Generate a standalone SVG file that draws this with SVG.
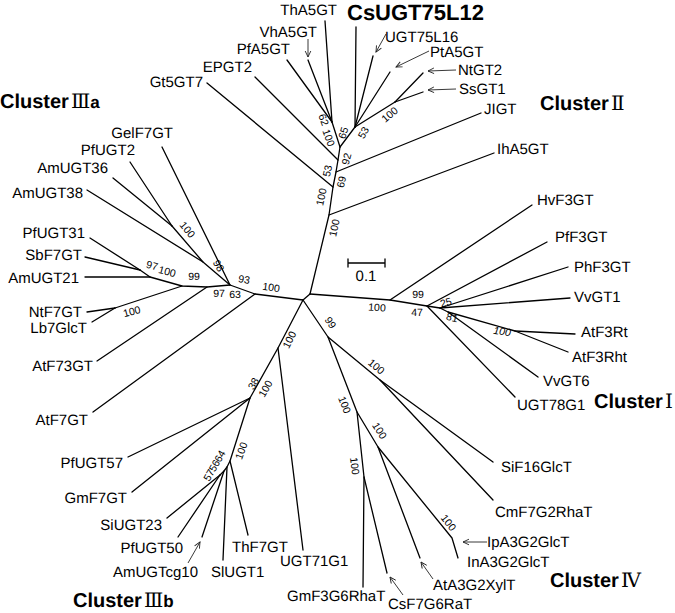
<svg xmlns="http://www.w3.org/2000/svg" width="675" height="613" viewBox="0 0 675 613">
<defs>
<marker id="ah" viewBox="0 0 8 8" refX="7" refY="4" markerWidth="8" markerHeight="8" markerUnits="userSpaceOnUse" orient="auto">
<path d="M1,1.2 L7,4 L1,6.8" fill="none" stroke="#222" stroke-width="0.9"/>
</marker>
<style>
.e{stroke:#000;stroke-width:1.3;fill:none;stroke-linecap:round;stroke-linejoin:round}
.a{stroke:#222;stroke-width:0.9;fill:none;marker-end:url(#ah)}
text{font-family:"Liberation Sans",Arial,sans-serif;fill:#000;text-rendering:geometricPrecision}
.l{font-size:15px}
.le{font-size:15px;text-anchor:end}
.n{font-size:10.5px;text-anchor:middle;dominant-baseline:central}
.c{font-size:20px;font-weight:bold}
.r{font-family:"DejaVu Serif","Noto Sans CJK SC",serif;font-weight:normal}
.big{font-size:22px;font-weight:bold}
</style>
</defs>
<rect width="675" height="613" fill="#fff"/>
<g id="connectors">
<path class="e" d="M303,300 L310,294"/>
<!-- Cluster II -->
<path class="e" d="M310,294 L329,215 L333,187 L336,172 L338,160 L340,147"/>
<path class="e" d="M329,215 L494,153"/>
<path class="e" d="M333,187 L207,83"/>
<path class="e" d="M336,172 L481,113"/>
<path class="e" d="M338,160 L255,77"/>
<path class="e" d="M340,147 L332,122"/>
<path class="e" d="M332,122 L287,60"/>
<path class="e" d="M332,122 L308,60"/>
<path class="e" d="M332,122 L325,21"/>
<path class="e" d="M340,147 L355,127"/>
<path class="e" d="M355,127 L356,27"/>
<path class="e" d="M355,127 L373,56"/>
<path class="e" d="M355,127 L390,72"/>
<path class="e" d="M355,127 L395,102"/>
<path class="e" d="M395,102 L423,73"/>
<path class="e" d="M395,102 L423,92"/>
<path class="a" d="M308,39 L308,57"/>
<path class="a" d="M386,34 L376,52"/>
<path class="a" d="M429,51 L396,67"/>
<path class="a" d="M456,70 L428,71"/>
<path class="a" d="M456,89 L428,90"/>
<!-- Cluster IIIa -->
<path class="e" d="M303,300 L255,294 L230,285 L207,287 L182,286 L150,277 L140,270"/>
<path class="e" d="M255,294 L93,412"/>
<path class="e" d="M230,285 L162,147"/>
<path class="e" d="M230,285 L203,262 L172,226"/>
<path class="e" d="M203,262 L87,190"/>
<path class="e" d="M172,226 L130,162"/>
<path class="e" d="M172,226 L113,178"/>
<path class="e" d="M207,287 L97,361"/>
<path class="e" d="M150,277 L85,277"/>
<path class="e" d="M140,270 L90,238"/>
<path class="e" d="M140,270 L85,257"/>
<path class="e" d="M182,286 L115,308"/>
<path class="e" d="M115,308 L87,312"/>
<path class="e" d="M115,308 L92,322"/>
<!-- Cluster IIIb -->
<path class="e" d="M303,300 L278,348 L250,398 L230,461 L227,467 L224,471 L220,475"/>
<path class="e" d="M278,348 L303,550"/>
<path class="e" d="M250,398 L128,457"/>
<path class="e" d="M250,398 L132,492"/>
<path class="e" d="M230,461 L248,535"/>
<path class="e" d="M227,467 L223,560"/>
<path class="e" d="M224,471 L202,537"/>
<path class="e" d="M220,475 L178,537"/>
<path class="e" d="M220,475 L167,518"/>
<path class="a" d="M188,563 L200,542"/>
<!-- Cluster IV -->
<path class="e" d="M303,300 L328,337 L380,380 L493,462"/>
<path class="e" d="M380,380 L493,500"/>
<path class="e" d="M328,337 L357,412 L364,477 L363,587"/>
<path class="e" d="M364,477 L387,573"/>
<path class="e" d="M357,412 L378,447 L420,558"/>
<path class="e" d="M378,447 L452,538 L458,558"/>
<path class="a" d="M487,542 L463,542"/>
<path class="a" d="M433,579 L421,562"/>
<path class="a" d="M403,595 L390,577"/>
<!-- Cluster I -->
<path class="e" d="M310,294 L390,300 L427,306 L440,308 L448,312 L515,331 L568,352"/>
<path class="e" d="M390,300 L532,205"/>
<path class="e" d="M427,306 L547,242"/>
<path class="e" d="M427,306 L515,397"/>
<path class="e" d="M440,308 L568,267"/>
<path class="e" d="M440,308 L570,298"/>
<path class="e" d="M448,312 L538,377"/>
<path class="e" d="M515,331 L575,334"/>
<!-- scale bar -->
<path class="e" d="M348,263 L385,263 M348,259 L348,267 M385,259 L385,267"/>
</g>
<g id="bootstrap">
<text class="n" transform="translate(323,120) rotate(70)">62</text>
<text class="n" transform="translate(328,138) rotate(70)">100</text>
<text class="n" transform="translate(344,133) rotate(-72)">65</text>
<text class="n" transform="translate(364,133) rotate(-60)">53</text>
<text class="n" transform="translate(390,115) rotate(-40)">100</text>
<text class="n" transform="translate(347,159) rotate(-75)">92</text>
<text class="n" transform="translate(328,171) rotate(-78)">53</text>
<text class="n" transform="translate(342,182) rotate(-78)">69</text>
<text class="n" transform="translate(322,197) rotate(-78)">100</text>
<text class="n" transform="translate(335,228) rotate(-78)">100</text>
<text class="n" transform="translate(187,230) rotate(50)">100</text>
<text class="n" transform="translate(218,266) rotate(60)">98</text>
<text class="n" transform="translate(152,266) rotate(15)">97</text>
<text class="n" transform="translate(167,272) rotate(15)">100</text>
<text class="n" transform="translate(194,277)">99</text>
<text class="n" transform="translate(219,294)">97</text>
<text class="n" transform="translate(235,295)">63</text>
<text class="n" transform="translate(244,280) rotate(10)">93</text>
<text class="n" transform="translate(271,288) rotate(8)">100</text>
<text class="n" transform="translate(132,312) rotate(-15)">100</text>
<text class="n" transform="translate(290,340) rotate(-63)">100</text>
<text class="n" transform="translate(254,384) rotate(-60)">38</text>
<text class="n" transform="translate(266,389) rotate(-60)">100</text>
<text class="n" transform="translate(242,451) rotate(-70)">100</text>
<text class="n" transform="translate(209.5,475.5) rotate(-60)">57</text>
<text class="n" transform="translate(215,466) rotate(-60)">56</text>
<text class="n" transform="translate(220.5,456.5) rotate(-60)">64</text>
<text class="n" transform="translate(330,323) rotate(58)">99</text>
<text class="n" transform="translate(376,367) rotate(40)">100</text>
<text class="n" transform="translate(344,405) rotate(69)">100</text>
<text class="n" transform="translate(379,431) rotate(58)">100</text>
<text class="n" transform="translate(354,466) rotate(83)">100</text>
<text class="n" transform="translate(448,523) rotate(52)">100</text>
<text class="n" transform="translate(377,308) rotate(4)">100</text>
<text class="n" transform="translate(418,295)">99</text>
<text class="n" transform="translate(417,313)">47</text>
<text class="n" transform="translate(446,303) rotate(-15)">25</text>
<text class="n" transform="translate(452,318) rotate(15)">81</text>
<text class="n" transform="translate(502,332) rotate(8)" font-style="italic">100</text>
<text x="366" y="281" font-size="15" text-anchor="middle">0.1</text>
</g>
<g id="clusterII">
<g id="n-ThA5GT"><text class="le" x="337" y="15">ThA5GT</text></g>
<g id="n-CsUGT75L12"><text class="big" x="347" y="20">CsUGT75L12</text></g>
<g id="n-VhA5GT"><text class="le" x="317" y="37">VhA5GT</text></g>
<g id="n-PfA5GT"><text class="le" x="290" y="54">PfA5GT</text></g>
<g id="n-EPGT2"><text class="le" x="252" y="72">EPGT2</text></g>
<g id="n-Gt5GT7"><text class="le" x="203" y="87">Gt5GT7</text></g>
<g id="n-UGT75L16"><text class="l" x="385" y="42">UGT75L16</text></g>
<g id="n-PtA5GT"><text class="l" x="430" y="57">PtA5GT</text></g>
<g id="n-NtGT2"><text class="l" x="458" y="75">NtGT2</text></g>
<g id="n-SsGT1"><text class="l" x="459" y="94">SsGT1</text></g>
<g id="n-JIGT"><text class="l" x="484" y="114">JIGT</text></g>
<g id="n-IhA5GT"><text class="l" x="497" y="154">IhA5GT</text></g>
<g id="label-clusterII"><text class="c" x="540" y="110">Cluster<tspan class="r" dx="2">Ⅱ</tspan></text></g>
</g>
<g id="clusterIIIa">
<g id="label-clusterIIIa"><text class="c" x="0" y="108">Cluster<tspan class="r" dx="2">Ⅲ</tspan><tspan font-size="17">a</tspan></text></g>
<g id="n-GelF7GT"><text class="le" x="173" y="138">GelF7GT</text></g>
<g id="n-PfUGT2"><text class="le" x="135" y="155">PfUGT2</text></g>
<g id="n-AmUGT36"><text class="le" x="108" y="173">AmUGT36</text></g>
<g id="n-AmUGT38"><text class="le" x="83" y="198">AmUGT38</text></g>
<g id="n-PfUGT31"><text class="le" x="85" y="238">PfUGT31</text></g>
<g id="n-SbF7GT"><text class="le" x="82" y="260">SbF7GT</text></g>
<g id="n-AmUGT21"><text class="le" x="79" y="283">AmUGT21</text></g>
<g id="n-NtF7GT"><text class="le" x="82" y="317">NtF7GT</text></g>
<g id="n-Lb7GlcT"><text class="le" x="87" y="333">Lb7GlcT</text></g>
<g id="n-AtF73GT"><text class="le" x="93" y="371">AtF73GT</text></g>
<g id="n-AtF7GT"><text class="le" x="88" y="425">AtF7GT</text></g>
</g>
<g id="clusterIIIb">
<g id="n-PfUGT57"><text class="le" x="123" y="468">PfUGT57</text></g>
<g id="n-GmF7GT"><text class="le" x="127" y="503">GmF7GT</text></g>
<g id="n-SiUGT23"><text class="le" x="162" y="530">SiUGT23</text></g>
<g id="n-PfUGT50"><text class="le" x="183" y="553">PfUGT50</text></g>
<g id="n-AmUGTcg10"><text class="le" x="198" y="577">AmUGTcg10</text></g>
<g id="n-SlUGT1"><text class="l" x="211" y="577">SlUGT1</text></g>
<g id="n-ThF7GT"><text class="l" x="232" y="552">ThF7GT</text></g>
<g id="n-UGT71G1"><text class="l" x="280" y="566">UGT71G1</text></g>
<g id="label-clusterIIIb"><text class="c" x="73" y="607">Cluster<tspan class="r" dx="2">Ⅲ</tspan><tspan font-size="17">b</tspan></text></g>
</g>
<g id="clusterIV">
<g id="n-GmF3G6RhaT"><text class="l" x="287" y="601">GmF3G6RhaT</text></g>
<g id="n-CsF7G6RaT"><text class="l" x="388" y="609">CsF7G6RaT</text></g>
<g id="n-AtA3G2XylT"><text class="l" x="433" y="590">AtA3G2XylT</text></g>
<g id="n-InA3G2GlcT"><text class="l" x="467" y="567">InA3G2GlcT</text></g>
<g id="n-IpA3G2GlcT"><text class="l" x="487" y="547">IpA3G2GlcT</text></g>
<g id="n-CmF7G2RhaT"><text class="l" x="495" y="517">CmF7G2RhaT</text></g>
<g id="n-SiF16GlcT"><text class="l" x="501" y="472">SiF16GlcT</text></g>
<g id="label-clusterIV"><text class="c" x="550" y="587">Cluster<tspan class="r" dx="2">Ⅳ</tspan></text></g>
</g>
<g id="clusterI">
<g id="n-HvF3GT"><text class="l" x="537" y="205">HvF3GT</text></g>
<g id="n-PfF3GT"><text class="l" x="555" y="242">PfF3GT</text></g>
<g id="n-PhF3GT"><text class="l" x="574" y="272">PhF3GT</text></g>
<g id="n-VvGT1"><text class="l" x="574" y="302">VvGT1</text></g>
<g id="n-AtF3Rt"><text class="l" x="581" y="337">AtF3Rt</text></g>
<g id="n-AtF3Rht"><text class="l" x="572" y="362">AtF3Rht</text></g>
<g id="n-VvGT6"><text class="l" x="543" y="386">VvGT6</text></g>
<g id="n-UGT78G1"><text class="l" x="517" y="410">UGT78G1</text></g>
<g id="label-clusterI"><text class="c" x="594" y="408" font-size="18">Cluster<tspan class="r" dx="2">Ⅰ</tspan></text></g>
</g>
</svg>
